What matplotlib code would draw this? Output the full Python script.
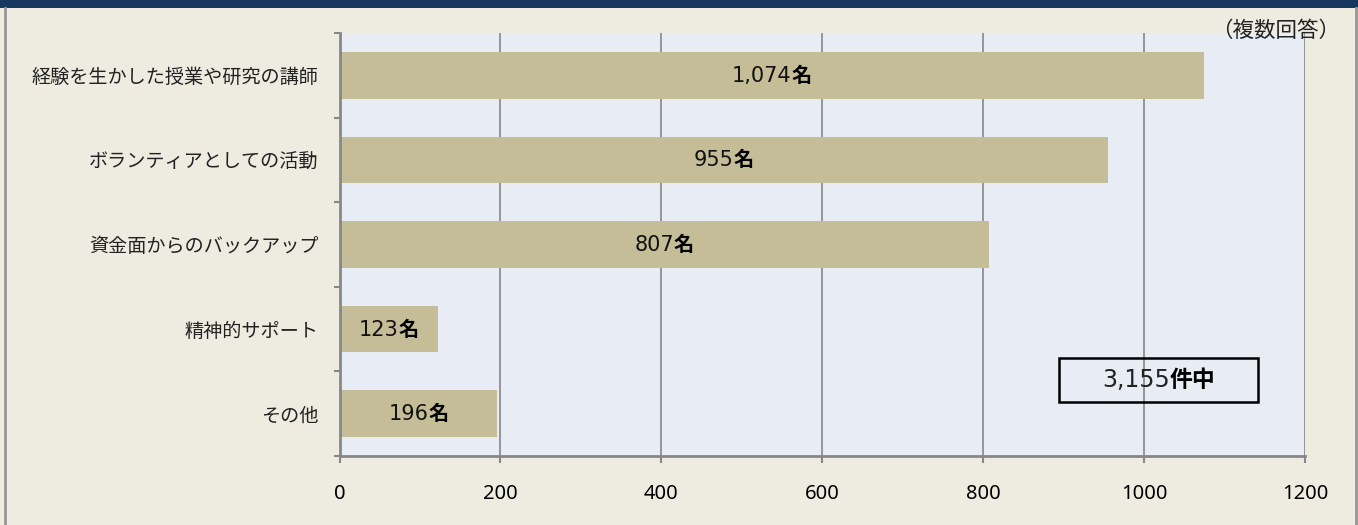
import matplotlib
matplotlib.use("Agg")
import matplotlib.pyplot as plt
from matplotlib.offsetbox import TextArea, HPacker, AnnotationBbox
from matplotlib.patches import Rectangle
from matplotlib.lines import Line2D

categories = ["経験を生かした授業や研究の講師", "ボランティアとしての活動",
              "資金面からのバックアップ", "精神的サポート", "その他"]
values = [1074, 955, 807, 123, 196]
value_labels = ["1,074", "955", "807", "123", "196"]
unit = "名"
xticks = [0, 200, 400, 600, 800, 1000, 1200]
total_label = "3,155"
total_unit = "件中"
note = "（複数回答）"

W, H = 1358, 525
BG = "#EEECE1"
PLOT_BG = "#E8ECF4"
BAR = "#C4BD97"
NAVY = "#17375E"
GRID = "#878787"
JP = ["Noto Sans CJK JP", "DejaVu Sans"]
NUM = ["Noto Sans", "Noto Sans CJK JP"]
LBL = ["DejaVu Sans", "Noto Sans CJK JP"]

fig = plt.figure(figsize=(W / 100, H / 100), dpi=100)
fig.patch.set_facecolor(BG)

# top navy band and side borders
fig.add_artist(Rectangle((0, 1 - 8 / H), 1, 8 / H, transform=fig.transFigure,
                         facecolor=NAVY, edgecolor="none"))
fig.add_artist(Line2D([4.5 / W, 4.5 / W], [0, 1 - 8 / H], transform=fig.transFigure,
                      color="#969696", lw=2))
fig.add_artist(Line2D([1356 / W, 1356 / W], [0, 1 - 8 / H], transform=fig.transFigure,
                      color="#969696", lw=2))

x0, x1 = 339.5, 1305
ytop, ybot = 33, 456
ax = fig.add_axes([x0 / W, (H - ybot) / H, (x1 - x0) / W, (ybot - ytop) / H])
ax.set_facecolor(PLOT_BG)

ypos = list(range(len(categories)))
ax.barh(ypos, values, height=0.55, color=BAR, zorder=2)
ax.set_xlim(0, 1200)
ax.set_ylim(len(categories) - 0.5, -0.5)

ax.set_xticks(xticks)
ax.set_xticklabels([str(t) for t in xticks], fontsize=14.5, family=NUM)
ax.tick_params(axis="x", length=5, width=1.5, color=GRID, pad=15)
ax.xaxis.grid(True, color=GRID, lw=1.2, zorder=1)
ax.set_axisbelow(True)

ax.set_yticks(ypos)
ax.set_yticklabels(categories, fontsize=13.8, family=JP, color="#222222")
ax.tick_params(axis="y", length=0, pad=15)
ax.set_yticks([i - 0.5 for i in range(len(categories) + 1)], minor=True)
ax.tick_params(axis="y", which="minor", length=4.5, width=1.5, color=GRID)

for s in ["top", "right"]:
    ax.spines[s].set_visible(False)
for s in ["left", "bottom"]:
    ax.spines[s].set_color(GRID)
    ax.spines[s].set_linewidth(2)

for i, (v, lab) in enumerate(zip(values, value_labels)):
    t1 = TextArea(lab, textprops=dict(fontsize=15, family=LBL, color="#111111"))
    t2 = TextArea(unit, textprops=dict(fontsize=14.5, family=JP, weight="bold", color="black"))
    pack = HPacker(children=[t1, t2], sep=0, pad=0, align="baseline")
    ab = AnnotationBbox(pack, (v / 2, i), xycoords="data", frameon=False,
                        box_alignment=(0.5, 0.5), zorder=3)
    ax.add_artist(ab)

# total box
bx0, bx1 = (1059 - x0) / (x1 - x0), (1258 - x0) / (x1 - x0)
by0, by1 = (ybot - 402) / (ybot - ytop), (ybot - 358) / (ybot - ytop)
ax.add_patch(Rectangle((bx0, by0), bx1 - bx0, by1 - by0, transform=ax.transAxes,
                       facecolor="none", edgecolor="black", lw=1.8, zorder=4))
t1 = TextArea(total_label, textprops=dict(fontsize=17, family=LBL, color="#222222"))
t2 = TextArea(total_unit, textprops=dict(fontsize=16.5, family=JP, weight="bold", color="black"))
pack = HPacker(children=[t1, t2], sep=0, pad=0, align="baseline")
ax.add_artist(AnnotationBbox(pack, ((bx0 + bx1) / 2, (by0 + by1) / 2), xycoords="axes fraction",
                             frameon=False, box_alignment=(0.5, 0.5), zorder=5))

fig.text(1340 / W, 1 - 31 / H, note, ha="right", va="center", fontsize=15.5,
         family=JP, color="#222222")

fig.savefig("out.png", dpi=100, facecolor=BG)
